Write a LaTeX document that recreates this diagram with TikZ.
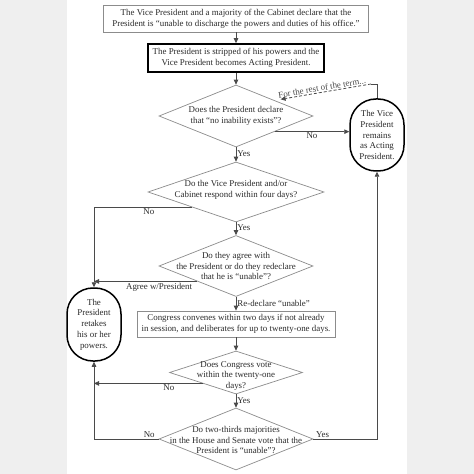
\documentclass[tikz,border=0pt]{standalone}
\usepackage{fontspec}
\setmainfont{Liberation Serif}
\usetikzlibrary{shapes.geometric,arrows.meta}
\definecolor{bg}{HTML}{EFEFEF}
\definecolor{ln}{HTML}{8C8C8C}
\definecolor{tx}{HTML}{2B2B2B}
\definecolor{ar}{HTML}{4A4A4A}
\newcommand\fs{\fontsize{8.9bp}{10.8bp}\selectfont}
\tikzset{
  box/.style={draw=ln, line width=0.8bp, fill=white, align=center, inner sep=0pt, text=tx, font=\fs},
  strongbox/.style={draw=black, line width=1.6bp, fill=white, align=center, inner sep=0pt, text=tx, font=\fs},
  dia/.style={diamond, draw=ln, line width=0.7bp, inner sep=0pt},
  dtext/.style={align=center, text=tx, font=\fs, inner sep=0pt},
  stad/.style={draw=black, line width=1.5bp, rounded corners=26bp, minimum width=54bp, minimum height=72bp, align=center, inner sep=0pt, text=tx, font=\fs},
  arr/.style={-{Triangle[length=5bp,width=4.5bp]}, draw=ar, line width=0.8bp},
  plain/.style={draw=ar, line width=0.8bp},
  lab/.style={font=\fs, text=tx, inner sep=1bp},
}
\begin{document}
\begin{tikzpicture}[x=1bp,y=-1bp]
\fill[bg] (0,0) rectangle (474,474);
\fill[white] (67,0) rectangle (407,474);
\useasboundingbox (0,0) rectangle (474,474);

\node[box, minimum width=265bp, minimum height=27bp] (b1) at (236,18.5)
  {The Vice President and a majority of the Cabinet declare that the\\President is “unable to discharge the powers and duties of his office.”};
\node[strongbox, minimum width=176bp, minimum height=28bp] (b2) at (236,58)
  {The President is stripped of his powers and the\\Vice President becomes Acting President.};

\node[dia, minimum width=154bp, minimum height=62bp] (d1) at (236,116) {};
\node[dtext] (d1t) at (236,115.5) {Does the President declare\\that “no inability exists”?};

\node[stad] (rs) at (377,135) {The Vice\\President\\remains\\as Acting\\President.};

\node[dia, minimum width=176bp, minimum height=60bp] (d2) at (236,192) {};
\node[dtext] (d2t) at (236,189.5) {Do the Vice President and/or\\Cabinet respond within four days?};

\node[dia, minimum width=154bp, minimum height=61bp] (d3) at (236,266) {};
\node[dtext] (d3t) at (236,266) {Do they agree with\\the President or do they redeclare\\that he is “unable”?};

\node[box, minimum width=198bp, minimum height=26bp] (b3) at (236,324)
  {Congress convenes within two days if not already\\in session, and deliberates for up to twenty-one days.};

\node[stad, minimum height=73bp] (ls) at (94,324.5) {The\\President\\retakes\\his or her\\powers.};

\node[dia, minimum width=133bp, minimum height=43bp] (d4) at (236,372.5) {};
\node[dtext] (d4t) at (236,376) {Does Congress vote\\within the twenty-one\\days?};

\node[dia, minimum width=154bp, minimum height=62bp] (d5) at (236,439) {};
\node[dtext] (d5t) at (236,440) {Do two-thirds majorities\\in the House and Senate vote that the\\President is “unable”?};

% vertical flow
\draw[arr] (b1.south) -- (b2.north);
\draw[arr] (b2.south) -- (d1.north);
\draw[arr] (d1.south) -- node[lab, right, pos=0.45] {Yes} (d2.north);
\draw[arr] (d2.south) -- node[lab, right, pos=0.45] {Yes} (d3.north);
\draw[arr] (d3.south) -- node[lab, right, pos=0.45] {Re-declare “unable”} (b3.north);
\draw[arr] (b3.south) -- (d4.north);
\draw[arr] (d4.south) -- node[lab, right, pos=0.45] {Yes} (d5.north);

% d1 no
\draw[arr] (d1.south east) -- node[lab, below, pos=0.5] {No} (d1.south east -| rs.west);

% for the rest of the term
\coordinate (t1) at (377,84);
\coordinate (t2) at (371,84);
\draw[plain] (rs.north) -- (t1) -- (t2);
\draw[arr, dash pattern=on 3bp off 2bp, shorten >=6bp] (t2) -- node[lab, sloped, above, pos=0.5, text=ar] {For the rest of the term...} (d1.north east);

% left branches
\draw[arr] (d2.south west) -| node[lab, pos=0.22, below] {No} (ls.north);
\draw[arr] (d3.south west) -- node[lab, below, pos=0.37] {Agree w/President} (d3.south west -| ls.north);
\draw[arr] (d4.south west) -- node[lab, below, pos=0.31] {No} (d4.south west -| ls.south);
\draw[arr] (d5.west) -| node[lab, above left, pos=0.02] {No} (ls.south);
\draw[arr] (d5.east) -| node[lab, above right, pos=0.01] {Yes} (rs.south);
\end{tikzpicture}
\end{document}
